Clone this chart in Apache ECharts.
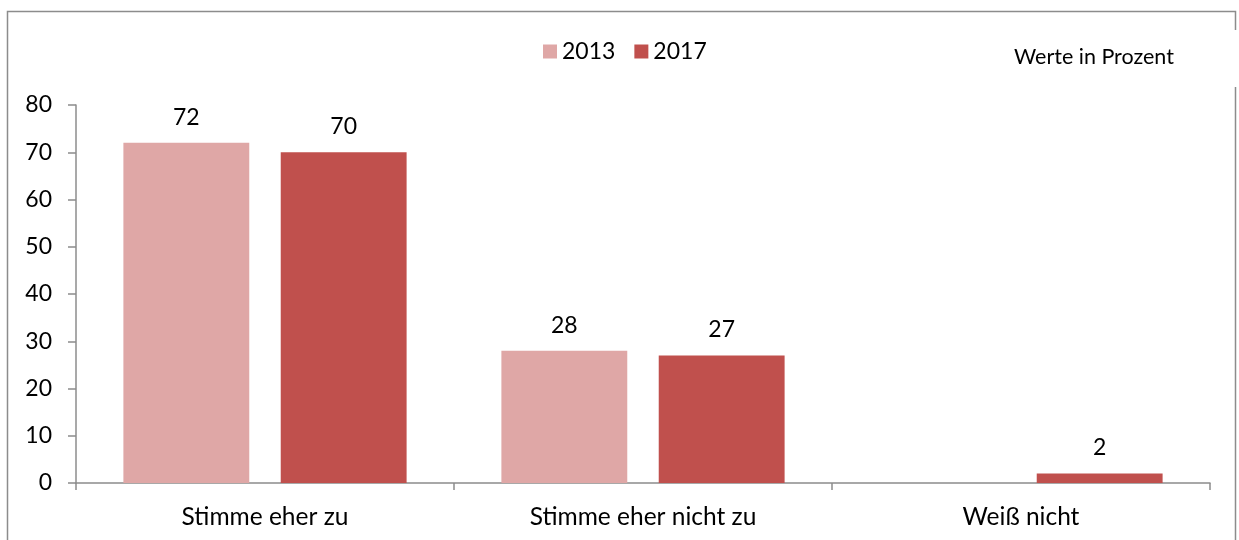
<!DOCTYPE html>
<html>
<head>
<meta charset="utf-8">
<script src="https://cdn.jsdelivr.net/npm/echarts@6/dist/echarts.min.js"></script>
<style>
  html, body { margin: 0; padding: 0; background: #fff; }
  #chart { width: 1239px; height: 540px; }
</style>
</head>
<body>
<div id="chart"></div>
<script>
const categories = ['Stimme eher zu', 'Stimme eher nicht zu', 'Weiß nicht'];
const values2013 = [72, 28, null];
const values2017 = [70, 27, 2];
const yTicks = [0, 10, 20, 30, 40, 50, 60, 70, 80];

const chart = echarts.init(document.getElementById('chart'), null, { renderer: 'canvas' });
const font = 'Lato, "Open Sans", sans-serif';

// Balken-Serie erzeugen
function barSeries(name, data, color) {
    return {
        name: name,
        type: 'bar',
        data: data,
        barWidth: '33.3%',
        barGap: '25%',
        itemStyle: { color: color },
        label: {
            show: true,
            position: 'top',
            distance: 14,
            color: '#000',
            fontSize: 23,
            fontFamily: font
        }
    };
}

chart.setOption({
    animation: false,
    textStyle: { fontFamily: font },
    graphic: [
        {
            type: 'rect',
            shape: { x: 7.5, y: 11.5, width: 1228, height: 560 },
            style: { fill: 'none', stroke: '#8c8c8c', lineWidth: 1.5 },
            z: -1
        },
        {
            type: 'rect',
            shape: { x: 1225, y: 30, width: 14, height: 57 },
            style: { fill: '#fff' },
            z: 0
        },
        {
            type: 'text',
            left: 1014,
            top: 46,
            style: { text: 'Werte in Prozent', fontSize: 21.5, fill: '#000', fontFamily: font }
        }
    ],
    legend: {
        top: 35,
        left: 538,
        itemWidth: 14,
        itemHeight: 14,
        itemGap: 19,
        icon: 'rect',
        textStyle: { fontSize: 23, color: '#000', fontFamily: font },
        data: ['2013', '2017']
    },
    grid: { left: 76, right: 29, top: 105, bottom: 57, containLabel: false },
    xAxis: {
        type: 'category',
        data: categories,
        axisLine: { lineStyle: { color: '#8c8c8c', width: 1.5 } },
        axisTick: { show: true, alignWithLabel: false, length: 7, lineStyle: { color: '#8c8c8c', width: 1.5 } },
        axisLabel: { color: '#000', fontSize: 24.5, margin: 22, fontFamily: font }
    },
    yAxis: {
        type: 'value',
        min: yTicks[0],
        max: yTicks[yTicks.length - 1],
        interval: 10,
        splitLine: { show: false },
        axisLine: { show: true, lineStyle: { color: '#8c8c8c', width: 1.5 } },
        axisTick: { show: true, length: 8, lineStyle: { color: '#8c8c8c', width: 1.5 } },
        axisLabel: { color: '#000', fontSize: 23, margin: 24, fontFamily: font }
    },
    series: [
        barSeries('2013', values2013, '#dfa7a6'),
        barSeries('2017', values2017, '#c0504d')
    ]
});
</script>
</body>
</html>
